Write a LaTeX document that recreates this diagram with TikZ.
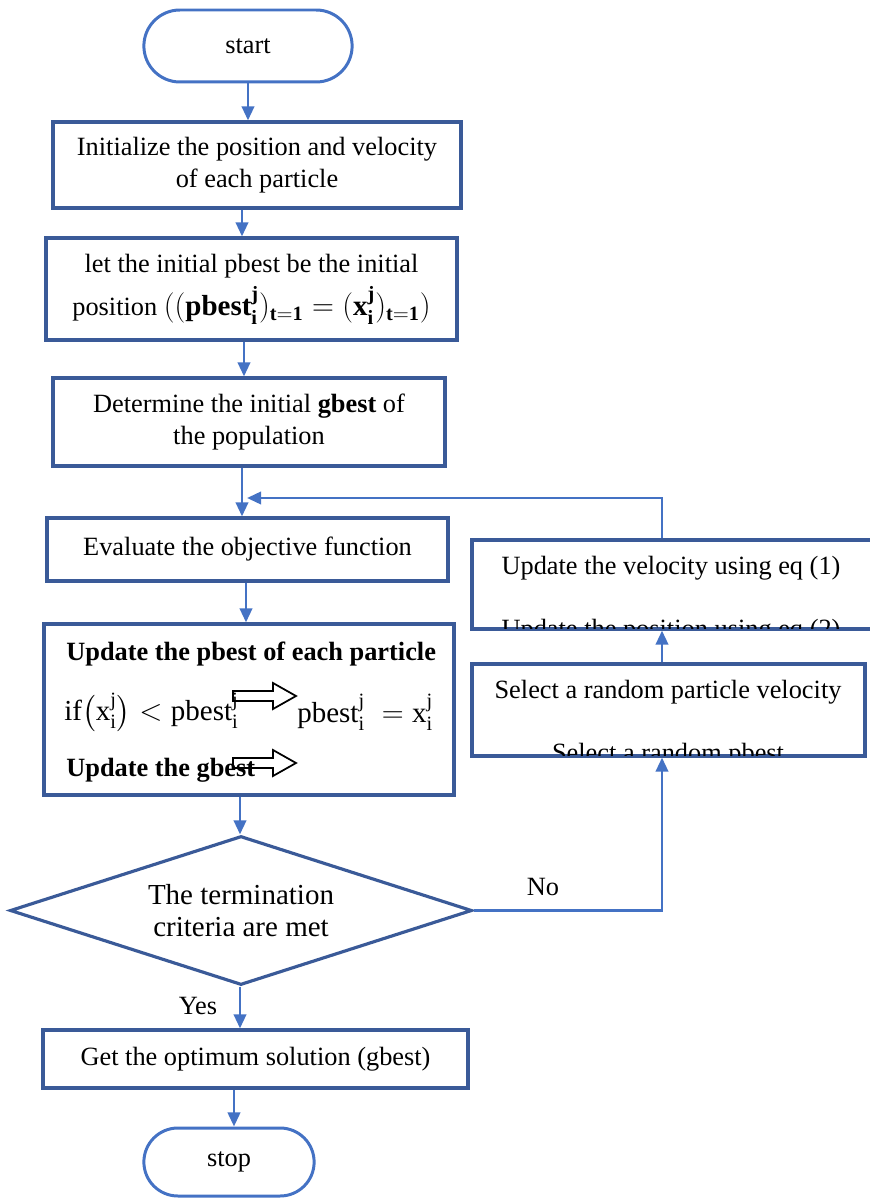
\documentclass[tikz,border=0pt]{standalone}
\usepackage{amsmath}
\usepackage{fontspec}
\setmainfont{Liberation Serif}
\usetikzlibrary{shapes.geometric,shapes.misc,arrows.meta}

\definecolor{boxblue}{HTML}{3A5A98}
\definecolor{linkblue}{HTML}{4472C4}

\begin{document}
\begin{tikzpicture}[x=0.02cm,y=-0.02cm,
  every node/.style={font=\fontsize{15}{18}\selectfont},
  term/.style={draw=linkblue,line width=1.7pt,rounded rectangle},
  block/.style={draw=boxblue,line width=1.8pt,align=center,inner sep=0pt},
  decide/.style={draw=boxblue,line width=1.8pt,diamond,aspect=3.1,inner sep=0pt,align=center,
    font=\fontsize{16.5}{18.5}\selectfont},
  link/.style={draw=linkblue,line width=1.6pt,-{Triangle[width=7pt,length=8pt]}},
  note/.style={anchor=west,inner sep=0pt},
  mathnote/.style={note,font=\fontsize{16.5}{18}\selectfont},
  boldnote/.style={note,font=\bfseries\fontsize{15}{18}\selectfont},
  hollow/.style={draw=black,fill=white,line width=1pt,line join=miter}]
\useasboundingbox (0,0) rectangle (869,1199);

% main column
\node[term,minimum width=4.4cm,minimum height=1.44cm] (start) at (248,46) {start};
\node[block,minimum width=8.16cm,minimum height=1.72cm] (init) at (257,165)
  {Initialize the position and velocity\\ of each particle};
\node[block,minimum width=8.22cm,minimum height=2.04cm] (pinit) at (251.5,289)
  {let the initial pbest be the initial\\[4pt]
   position {\fontsize{16.5}{18}\selectfont$((\mathbf{pbest}_{\mathbf{i}}^{\mathbf{j}})_{\mathbf{t=1}}=(\mathbf{x}_{\mathbf{i}}^{\mathbf{j}})_{\mathbf{t=1}})$}};
\node[block,minimum width=7.84cm,minimum height=1.76cm] (ginit) at (249,422)
  {Determine the initial \textbf{gbest} of\\ the population};
\node[block,minimum width=8.02cm,minimum height=1.26cm] (eval) at (247.5,549.5)
  {Evaluate the objective function};

% pbest / gbest update
\node[block,minimum width=8.2cm,minimum height=3.42cm] (upbest) at (249,709.5) {};
\foreach \ay in {696,763}
  \draw[hollow] (233,\ay-5) -- (273,\ay-5) -- (273,\ay-13) -- (296,\ay)
    -- (273,\ay+13) -- (273,\ay+5) -- (233,\ay+5) -- cycle;
\node[boldnote] (l1) at (66,654) {Update the pbest of each particle};
\node[mathnote] (l2) at (64,712)
  {$\mathrm{if}\bigl(\mathrm{x}_{\mathrm{i}}^{\mathrm{j}}\bigr)<\mathrm{pbest}_{\mathrm{i}}^{\mathrm{j}}$};
\node[mathnote] (l3) at (297,712)
  {$\mathrm{pbest}_{\mathrm{i}}^{\mathrm{j}}\;=\mathrm{x}_{\mathrm{i}}^{\mathrm{j}}$};
\node[boldnote] (l4) at (66,770) {Update the gbest};

\node[decide,minimum width=9.24cm,minimum height=2.98cm] (dec) at (241,910.5)
  {The termination\\ criteria are met};
\node[block,minimum width=8.5cm,minimum height=1.16cm] (opt) at (255.5,1059)
  {Get the optimum solution (gbest)};
\node[term,minimum width=3.64cm,minimum height=1.36cm] (stop) at (229,1162) {stop};

% right column
\node[block,minimum width=8.16cm,minimum height=1.78cm] (upd) at (676,584.5) {};
\node (velo) at (671,568) {Update the velocity using eq (1)};
\begin{scope}
\clip ([xshift=1pt,yshift=0.9pt]upd.south west) rectangle ([xshift=-1pt,yshift=-0.9pt]upd.north east);
\node[anchor=base] (posn) at (671,637) {Update the position using eq (2)};
\end{scope}

\node[block,minimum width=7.86cm,minimum height=1.84cm] (sel) at (668.5,710) {};
\node (pick) at (668,692) {Select a random particle velocity};
\begin{scope}
\clip ([xshift=1pt,yshift=0.9pt]sel.south west) rectangle ([xshift=-1pt,yshift=-0.9pt]sel.north east);
\node[anchor=base] (pbst) at (668,761) {Select a random pbest};
\end{scope}

% connectors
\coordinate (join) at (247,498);
\draw[link] (start.south) -- (start.south |- init.north);
\draw[link] (init.south -| 242,0) -- (pinit.north -| 242,0);
\draw[link] (pinit.south -| 244,0) -- (ginit.north -| 244,0);
\draw[link] (ginit.south -| 242,0) -- (eval.north -| 242,0);
\draw[link] (upd.north -| 662,0) |- (join);
\draw[link] (eval.south -| 246,0) -- (upbest.north -| 246,0);
\draw[link] (upbest.south -| 240,0) -- (dec.north -| 240,0);
\draw[link] (dec.south -| 240,0) -- (opt.north -| 240,0);
\draw[link] (opt.south -| 234,0) -- (stop.north -| 234,0);
\draw[link] (dec.east) -| (sel.south -| 662,0);
\draw[link] (sel.north -| 662,0) -- (upd.south -| 662,0);

\node (no) at (543,887) {No};
\node (yes) at (198,1006) {Yes};
\end{tikzpicture}
\end{document}
